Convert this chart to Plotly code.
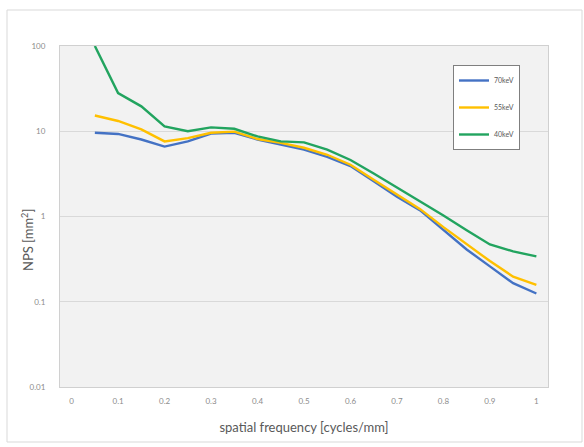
import plotly.graph_objects as go

# spatial frequency samples [cycles/mm]
freq = [0.05, 0.10, 0.15, 0.20, 0.25, 0.30, 0.35, 0.40, 0.45, 0.50,
        0.55, 0.60, 0.65, 0.70, 0.75, 0.80, 0.85, 0.90, 0.95, 1.00]

# noise power spectrum [mm^2] per tube energy
nps_70kev = [9.6, 9.3, 8.0, 6.6, 7.6, 9.4, 9.6, 8.0, 7.0, 6.1,
             5.0, 3.9, 2.6, 1.7, 1.18, 0.70, 0.41, 0.26, 0.165, 0.125]
nps_55kev = [15.3, 13.2, 10.5, 7.6, 8.3, 9.6, 9.9, 8.1, 7.3, 6.4,
             5.3, 4.05, 2.7, 1.8, 1.22, 0.75, 0.47, 0.30, 0.197, 0.158]
nps_40kev = [100, 28.0, 19.6, 11.4, 10.0, 11.1, 10.7, 8.7, 7.6, 7.4,
             6.1, 4.6, 3.2, 2.2, 1.52, 1.03, 0.69, 0.47, 0.39, 0.34]

series_names = ["70keV", "55keV", "40keV"]
series_colors = ["#4472C4", "#FFC000", "#22A45F"]

x_ticks = [0, 0.1, 0.2, 0.3, 0.4, 0.5, 0.6, 0.7, 0.8, 0.9, 1.0]
x_ticktext = ["0", "0.1", "0.2", "0.3", "0.4", "0.5", "0.6", "0.7", "0.8", "0.9", "1"]
y_ticks = [0.01, 0.1, 1, 10, 100]
y_ticktext = ["0.01", "0.1", "1", "10", "100"]

W, H = 584, 447
L, R, T, B = 60, 36, 46, 60
pw, ph = W - L - R, H - T - B

fig = go.Figure()
for name, vals, col in zip(series_names,
                           [nps_70kev, nps_55kev, nps_40kev],
                           series_colors):
    fig.add_trace(go.Scatter(
        x=freq, y=vals, mode="lines", name=name,
        legendgroup=name,
        line=dict(color=col, width=2.4),
    ))

axis_font = dict(family="Lato, Open Sans, sans-serif", size=8, color="#8c8c8c")
title_font = dict(family="Lato, Open Sans, sans-serif", size=13, color="#595959")

fig.update_layout(
    width=W, height=H,
    margin=dict(l=L, r=R, t=T, b=B),
    paper_bgcolor="white",
    plot_bgcolor="#f2f2f2",
    showlegend=True,
    legend=dict(
        x=(453 - L) / pw, y=(H - B - 65) / ph,
        xanchor="left", yanchor="top",
        bgcolor="white", bordercolor="#7f7f7f", borderwidth=1,
        font=dict(family="Lato, Open Sans, sans-serif", size=7, color="#595959"),
        tracegroupgap=8,
        itemwidth=30,
    ),
    xaxis=dict(
        range=[-0.025, 1.025],
        tickmode="array", tickvals=x_ticks, ticktext=x_ticktext,
        showgrid=False, zeroline=False,
        showline=True, linecolor="#d0d0d0", linewidth=1, mirror=True,
        ticks="outside", ticklen=6, tickcolor="rgba(0,0,0,0)",
        tickfont=axis_font,
        title=dict(text="spatial frequency [cycles/mm]", font=title_font, standoff=18),
    ),
    yaxis=dict(
        type="log", range=[-2, 2],
        tickmode="array", tickvals=y_ticks, ticktext=y_ticktext,
        showgrid=True, gridcolor="#d9d9d9", gridwidth=1,
        zeroline=False,
        showline=True, linecolor="#d0d0d0", linewidth=1, mirror=True,
        ticks="outside", ticklen=12, tickcolor="rgba(0,0,0,0)",
        tickfont=axis_font,
    ),
)

# y axis title, placed in pixel terms left of the tick labels
fig.add_annotation(
    text="NPS [mm<sup>2</sup>]", textangle=-90,
    xref="paper", yref="paper",
    x=(28 - L) / pw, y=(H - B - 240) / ph,
    xanchor="center", yanchor="middle",
    showarrow=False, font=title_font,
)

# chart area frame
fig.add_shape(
    type="rect", xref="paper", yref="paper",
    x0=(7 - L) / pw, x1=(582 - L) / pw,
    y0=(H - B - 442) / ph, y1=(H - B - 10) / ph,
    line=dict(color="#d9d9d9", width=1), fillcolor="rgba(0,0,0,0)",
    layer="below",
)

fig.write_html("out.html")
